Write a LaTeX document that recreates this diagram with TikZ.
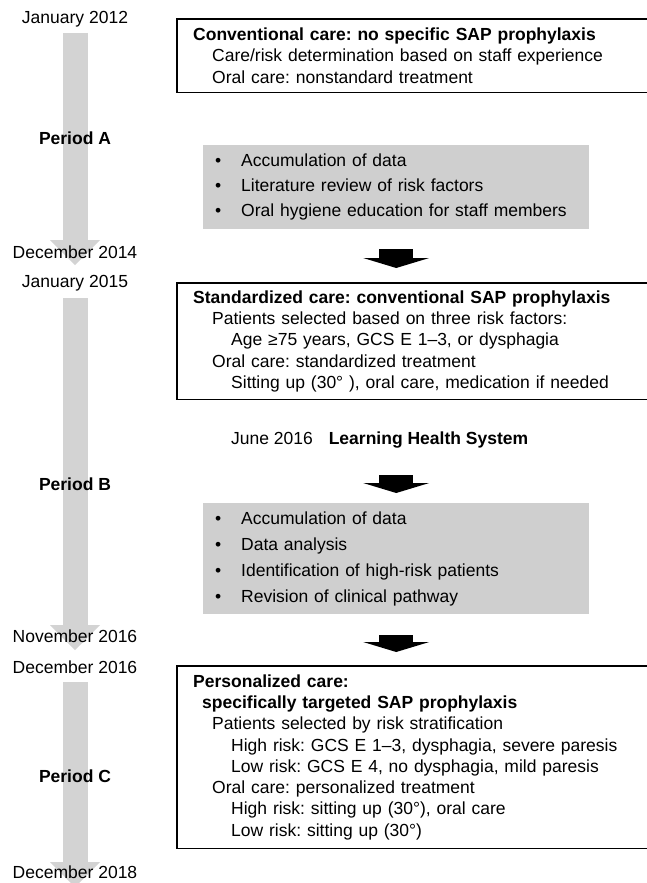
\documentclass[tikz,border=0pt]{standalone}
\usepackage{fontspec}
\setmainfont{Liberation Sans}
\usetikzlibrary{arrows.meta,positioning}
\definecolor{boxgray}{HTML}{CFCFCF}
\definecolor{timegray}{HTML}{D3D3D3}
\newcommand{\bitem}{\makebox[26pt][l]{\textbullet}}
\frenchspacing
\begin{document}
\begin{tikzpicture}[x=1pt,y=-1pt,
    txt/.style={font=\fontsize{17.5}{21.3}\selectfont, inner sep=0pt},
    phase/.style={txt, anchor=north west, text width=500pt,
      inner xsep=16pt, align=left},
    frame/.style={line width=1.2pt},
    task/.style={txt, fill=boxgray, anchor=north west, minimum width=386pt,
      text width=362pt, inner xsep=12pt, align=left},
    timearrow/.style={draw=timegray, line width=25pt,
      -{Triangle[width=50pt,length=25pt,line width=0pt]}},
    flowarrow/.style={draw=black, line width=34pt,
      -{Triangle[width=66pt,length=10pt,line width=0pt]}}]
    \useasboundingbox (0,0) rectangle (647,883);
    \clip (0,0) rectangle (647,883);
    % timeline on the left
    \draw[timearrow] (75,33) -- (75,265);
    \draw[timearrow] (75,298) -- (75,650);
    \draw[timearrow] (75,682) -- (75,887);
    \node[txt] (jan12) at (75,19) {January 2012};
    \node[txt, font=\fontsize{17.5}{21}\selectfont\bfseries] (perA) at (75,138) {Period A};
    \node[txt] (dec14) at (75,252) {December 2014};
    \node[txt] (jan15) at (75,283) {January 2015};
    \node[txt, font=\fontsize{17.5}{21}\selectfont\bfseries] (perB) at (75,484) {Period B};
    \node[txt] (nov16) at (75,636) {November 2016};
    \node[txt] (dec16) at (75,667) {December 2016};
    \node[txt, font=\fontsize{17.5}{21}\selectfont\bfseries] (perC) at (75,776) {Period C};
    \node[txt] (dec18) at (75,872) {December 2018};
    % care phases (boxes run off the right edge)
    \node[phase, minimum height=73pt] (conv) at (177,19) {%
      \textbf{Conventional care: no specific SAP prophylaxis}\\
      \hspace*{19pt}Care/risk determination based on staff experience\\
      \hspace*{19pt}Oral care: nonstandard treatment};
    \draw[frame] (conv.north east) -- (conv.north west) -- (conv.south west) -- (conv.south east);
    \node[task, minimum height=84pt, font=\fontsize{17.5}{25}\selectfont] (act1) at (203,145) {%
      \bitem Accumulation of data\\
      \bitem Literature review of risk factors\\
      \bitem Oral hygiene education for staff members};
    \node[phase, minimum height=116pt] (std) at (177,283) {%
      \textbf{Standardized care: conventional SAP prophylaxis}\\
      \hspace*{19pt}Patients selected based on three risk factors:\\
      \hspace*{38pt}Age ≥75 years, GCS E 1–3, or dysphagia\\
      \hspace*{19pt}Oral care: standardized treatment\\
      \hspace*{38pt}Sitting up (30° ), oral care, medication if needed};
    \draw[frame] (std.north east) -- (std.north west) -- (std.south west) -- (std.south east);
    \node[txt, anchor=west] (lhs) at (231,440) {June 2016\hspace{11pt} \textbf{Learning Health System}};
    \node[task, minimum height=111pt, font=\fontsize{17.5}{26}\selectfont] (act2) at (203,503) {%
      \bitem Accumulation of data\\
      \bitem Data analysis\\
      \bitem Identification of high-risk patients\\
      \bitem Revision of clinical pathway};
    \node[phase, minimum height=182pt] (pers) at (177,666) {%
      \textbf{Personalized care:}\\
      \hspace*{9pt}\textbf{specifically targeted SAP prophylaxis}\\
      \hspace*{19pt}Patients selected by risk stratification\\
      \hspace*{38pt}High risk: GCS E 1–3, dysphagia, severe paresis\\
      \hspace*{38pt}Low risk: GCS E 4, no dysphagia, mild paresis\\
      \hspace*{19pt}Oral care: personalized treatment\\
      \hspace*{38pt}High risk: sitting up (30°), oral care\\
      \hspace*{38pt}Low risk: sitting up (30°)};
    \draw[frame] (pers.north east) -- (pers.north west) -- (pers.south west) -- (pers.south east);
    % arrows between the steps
    \draw[flowarrow, shorten <=20pt, shorten >=15pt] (act1.south) -- (act1.south |- std.north);
    \draw[flowarrow, shorten <=27pt, shorten >=10pt] (act2.north |- lhs.south) -- (act2.north);
    \draw[flowarrow, shorten <=21pt, shorten >=14pt] (act2.south) -- (act2.south |- pers.north);
\end{tikzpicture}
\end{document}
